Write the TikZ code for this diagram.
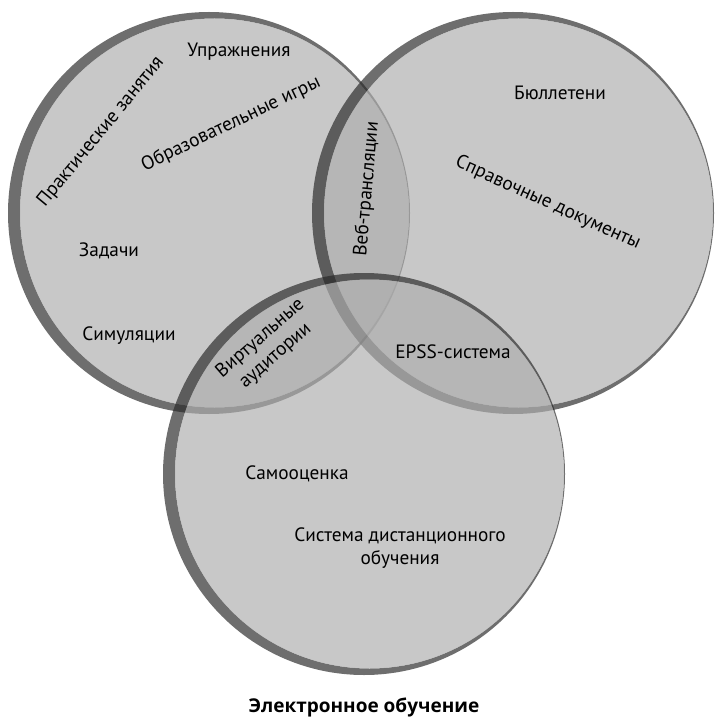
\documentclass[tikz,border=0pt]{standalone}
\usepackage{fontspec}
\setmainfont{PT Sans}
\newfontfamily\titlefont{Open Sans}
\definecolor{ringc}{gray}{0.153}
\definecolor{discc}{gray}{0.678}
\begin{document}
\begin{tikzpicture}[x=1pt,y=-1pt,
  ringdark/.style={fill=ringc, fill opacity=0.67, even odd rule},
  disc/.style={fill=discc, fill opacity=0.67},
  lbl/.style={font=\fontsize{19.3}{23}\selectfont, inner sep=0pt, align=center, text=black},
  ttl/.style={font=\titlefont\fontsize{19}{23}\selectfont\bfseries, inner sep=0pt, text=black}]
\useasboundingbox (0,0) rectangle (714,719);
\coordinate (cL) at (209,213);
\coordinate (cR) at (513,213);
\coordinate (cB) at (364,474);
% left circle
\fill[ringdark] (cL) circle[radius=201] ([xshift=5.5pt]cL) circle[radius=194.5];
\fill[disc] ([xshift=5.5pt]cL) circle[radius=194.5];
% right circle
\fill[ringdark] (cR) circle[radius=201] ([xshift=5.5pt]cR) circle[radius=194.5];
\fill[disc] ([xshift=5.5pt]cR) circle[radius=194.5];
% bottom circle
\fill[ringdark] (cB) circle[radius=201] ([xshift=5.5pt]cB) circle[radius=194.5];
\fill[disc] ([xshift=5.5pt]cB) circle[radius=194.5];
% labels
\node[lbl] (upr) at (239,52) {Упражнения};
\node[lbl, rotate=50.6] (prak) at (101,132) {Практические занятия};
\node[lbl, rotate=25.7] (obr) at (231,124) {Образовательные игры};
\node[lbl] (zad) at (109,251) {Задачи};
\node[lbl] (sim) at (129,336) {Симуляции};
\node[lbl, rotate=85] (veb) at (367,189) {Веб-трансляции};
\node[lbl] (bul) at (560,93) {Бюллетени};
\node[lbl, rotate=-24.4] (spr) at (548,203) {Справочные документы};
\node[lbl, rotate=41] (virt) at (268,347) {Виртуальные\\аудитории};
\node[lbl] (epss) at (453,352) {EPSS-система};
\node[lbl] (samo) at (297,474) {Самооценка};
\node[lbl] (sdo) at (400,548) {Система дистанционного\\обучения};
\node[ttl] (title) at (364,707) {Электронное обучение};
\end{tikzpicture}
\end{document}
